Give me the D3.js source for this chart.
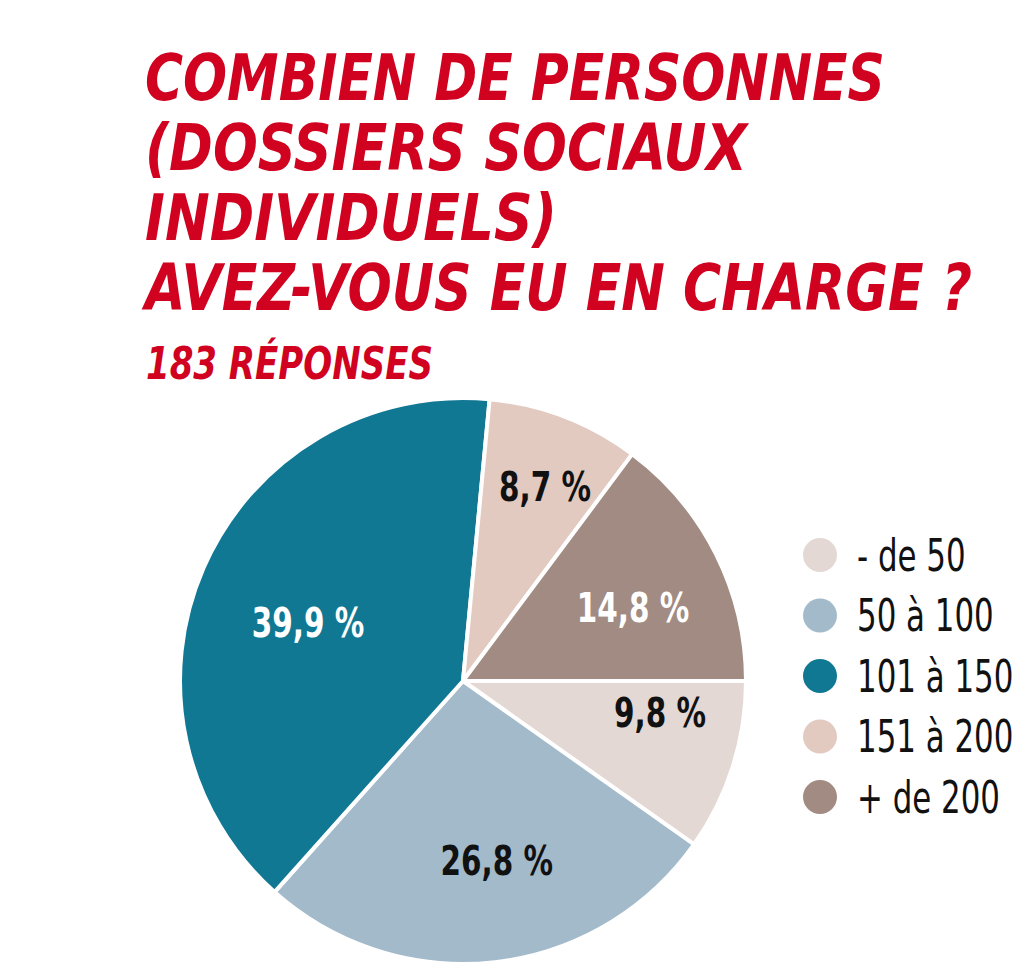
<!DOCTYPE html>
<html>
<head>
<meta charset="utf-8">
<script src="https://cdn.jsdelivr.net/npm/d3@7"></script>
<style>
  html, body { margin: 0; padding: 0; background: #fff; }
  svg { display: block; }
</style>
</head>
<body>
<svg id="chart" width="1024" height="970"></svg>
<script>
// ---- data ----
const titleLines = ["COMBIEN DE PERSONNES", "(DOSSIERS SOCIAUX", "INDIVIDUELS)", "AVEZ-VOUS EU EN CHARGE ?"];
const subtitle = "183 RÉPONSES";
const categories = ["- de 50", "50 à 100", "101 à 150", "151 à 200", "+ de 200"];
const values = [9.8, 26.8, 39.9, 8.7, 14.8];
const valueLabels = ["9,8 %", "26,8 %", "39,9 %", "8,7 %", "14,8 %"];

// ---- styles / layout ----
const colors = ["#e3d8d3", "#a3bacb", "#117894", "#e2cac0", "#a18b83"];
const labelColors = ["#111", "#111", "#fff", "#111", "#fff"];
// label placement in polar coords: angle (deg, clockwise from top), radius fraction
const labelAngle = [99.2, 169.4, 290.5, 22.9, 66.8];
const labelRadiusK = [0.705, 0.65, 0.585, 0.744, 0.654];
const red = "#d0021f";
const titleWidths = [740, 602, 412, 827];

const svg = d3.select("#chart");
const font = "'DejaVu Sans Condensed', sans-serif";

// horizontally scale a text element (placed at x,y, anchored start/middle) to a target width
function fitWidth(node, x, y, target) {
  const w = node.getComputedTextLength();
  const k = target / w;
  d3.select(node).attr("x", null).attr("y", null)
    .attr("transform", `translate(${x},${y}) scale(${k},1)`);
}

// title
svg.selectAll("text.title")
  .data(titleLines)
  .join("text")
  .attr("class", "title")
  .attr("font-family", font)
  .attr("font-weight", "bold")
  .attr("font-style", "italic")
  .attr("font-size", 64)
  .attr("fill", red)
  .text(d => d)
  .each(function (d, i) { fitWidth(this, 145, 100 + i * 70, titleWidths[i]); });

svg.append("text")
  .attr("font-family", font)
  .attr("font-weight", "bold")
  .attr("font-style", "italic")
  .attr("font-size", 44)
  .attr("fill", red)
  .text(subtitle)
  .each(function () { fitWidth(this, 146, 379, 287); });

// pie
const cx = 463, cy = 681, R = 283;
const g = svg.append("g").attr("transform", `translate(${cx},${cy})`);

const pie = d3.pie().sort(null).value(d => d)
  .startAngle(Math.PI / 2).endAngle(Math.PI / 2 + 2 * Math.PI);
const arcs = pie(values);
const arc = d3.arc().innerRadius(0).outerRadius(R);

g.selectAll("path")
  .data(arcs)
  .join("path")
  .attr("d", arc)
  .attr("fill", (d, i) => colors[i])
  .attr("stroke", "#fff")
  .attr("stroke-width", 4)
  .attr("stroke-linejoin", "round");

g.selectAll("text.val")
  .data(arcs)
  .join("text")
  .attr("class", "val")
  .attr("text-anchor", "middle")
  .attr("dominant-baseline", "central")
  .attr("font-family", font)
  .attr("font-weight", "bold")
  .attr("font-size", 40)
  .attr("fill", (d, i) => labelColors[i])
  .text((d, i) => valueLabels[i])
  .each(function (d, i) {
    const p = d3.pointRadial(labelAngle[i] * Math.PI / 180, R * labelRadiusK[i]);
    const w = this.getComputedTextLength();
    fitWidth(this, p[0], p[1], w * 0.82);
  });

// legend
const legend = svg.append("g").attr("transform", "translate(820,555)");
const li = legend.selectAll("g")
  .data(categories)
  .join("g")
  .attr("transform", (d, i) => `translate(0,${i * 60.5})`);
li.append("circle").attr("r", 17).attr("fill", (d, i) => colors[i]);
li.append("text")
  .attr("dominant-baseline", "central")
  .attr("font-family", font)
  .attr("font-size", 44)
  .attr("fill", "#111")
  .text(d => d)
  .each(function () {
    const w = this.getComputedTextLength();
    fitWidth(this, 37, 0, w * 0.78);
  });
</script>
</body>
</html>
